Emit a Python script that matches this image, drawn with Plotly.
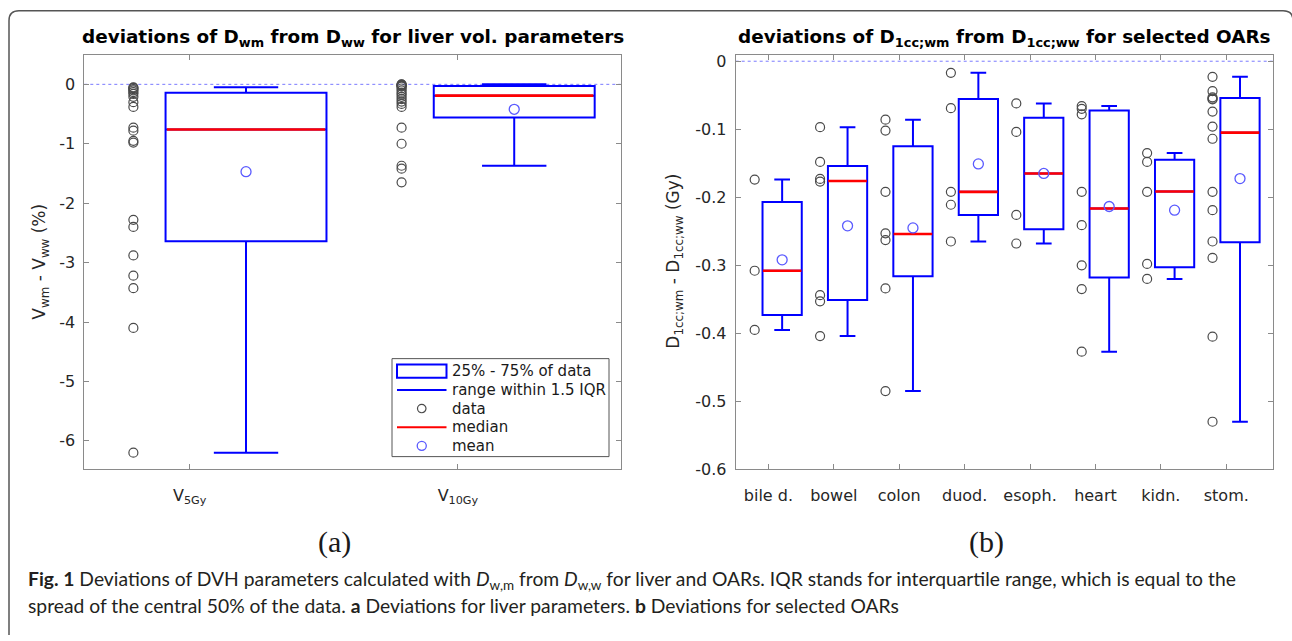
import plotly.graph_objects as go

# ---------------- data: panel (a) ----------------
liver_params = ["V<sub>5Gy</sub>", "V<sub>10Gy</sub>"]
liver_data_v5 = [-0.05, -0.06, -0.08, -0.10, -0.13, -0.16, -0.21, -0.30, -0.38,
                 -0.73, -0.78, -0.95, -0.98, -2.28, -2.40, -2.88, -3.22, -3.43, -4.10, -6.20]
liver_data_v10 = [0.0, -0.005, -0.01, -0.02, -0.025, -0.04, -0.07, -0.10, -0.14, -0.17,
                  -0.21, -0.25, -0.29, -0.33, -0.38, -0.73, -1.00, -1.37, -1.42, -1.65]
liver_q1 = [-2.64, -0.56]
liver_median = [-0.76, -0.19]
liver_q3 = [-0.14, -0.03]
liver_lower = [-6.20, -1.37]
liver_upper = [-0.05, 0.0]
liver_mean = [-1.47, -0.42]
liver_yticks = [0, -1, -2, -3, -4, -5, -6]
liver_yticklabels = ["0", "-1", "-2", "-3", "-4", "-5", "-6"]

# ---------------- data: panel (b) ----------------
oar_names = ["bile d.", "bowel", "colon", "duod.", "esoph.", "heart", "kidn.", "stom."]
oar_bile = [-0.174, -0.308, -0.395]
oar_bowel = [-0.097, -0.148, -0.173, -0.177, -0.344, -0.353, -0.404]
oar_colon = [-0.086, -0.102, -0.192, -0.253, -0.263, -0.334, -0.485]
oar_duod = [-0.017, -0.069, -0.192, -0.211, -0.265]
oar_esoph = [-0.062, -0.104, -0.226, -0.268]
oar_heart = [-0.066, -0.070, -0.078, -0.192, -0.241, -0.300, -0.335, -0.427]
oar_kidn = [-0.135, -0.148, -0.192, -0.298, -0.320]
oar_stom = [-0.023, -0.044, -0.053, -0.055, -0.056, -0.074, -0.096, -0.114,
            -0.192, -0.219, -0.265, -0.289, -0.405, -0.530]
oar_q1 = [-0.373, -0.351, -0.316, -0.226, -0.247, -0.318, -0.303, -0.266]
oar_median = [-0.308, -0.176, -0.254, -0.192, -0.165, -0.2165, -0.1915, -0.105]
oar_q3 = [-0.207, -0.154, -0.125, -0.0557, -0.083, -0.0725, -0.145, -0.054]
oar_lower = [-0.395, -0.404, -0.485, -0.265, -0.268, -0.427, -0.320, -0.530]
oar_upper = [-0.174, -0.097, -0.086, -0.017, -0.062, -0.066, -0.135, -0.023]
oar_mean = [-0.292, -0.242, -0.245, -0.151, -0.165, -0.2136, -0.219, -0.1725]
oar_yticks = [0, -0.1, -0.2, -0.3, -0.4, -0.5, -0.6]
oar_yticklabels = ["0", "-0.1", "-0.2", "-0.3", "-0.4", "-0.5", "-0.6"]

legend_labels = ["25% - 75% of data", "range within 1.5 IQR", "data", "median", "mean"]

# ---------------- styling ----------------
W, H = 1292, 641
BLUE = "#0000ff"
RED = "#ff0000"
MEANC = "#5a5aff"
DATAC = "#4a4a4a"
AXC = "#8a8a8a"
TICKFONT = dict(family="DejaVu Sans", size=16, color="#262626")
DATA_OFF = -0.21
BOX_OFF = 0.21
BOX_W = 0.6


def px(x):
    return x / W


def py(y):
    return 1 - y / H


fig = go.Figure()


def add_panel(xa, ya, groups, q1, med, q3, lo, up, mean):
    n = len(groups)
    cats = list(range(1, n + 1))
    bpos = [c + BOX_OFF for c in cats]
    fig.add_trace(go.Box(
        x=bpos, q1=q1, median=med, q3=q3, lowerfence=lo, upperfence=up,
        width=BOX_W, whiskerwidth=0.4, boxpoints=False, orientation="v",
        line=dict(color=BLUE, width=2), fillcolor="rgba(0,0,0,0)",
        name=legend_labels[0], showlegend=False, xaxis=xa, yaxis=ya,
        hoverinfo="skip"))
    dx, dy = [], []
    for c, g in zip(cats, groups):
        dx += [c + DATA_OFF] * len(g)
        dy += g
    fig.add_trace(go.Scatter(
        x=dx, y=dy, mode="markers", name=legend_labels[2], showlegend=False,
        marker=dict(symbol="circle-open", size=9, color=DATAC, line=dict(width=1.2)),
        xaxis=xa, yaxis=ya))
    mx, my = [], []
    for p, m in zip(bpos, med):
        mx += [p - BOX_W / 2 + 0.005, p + BOX_W / 2 - 0.005, None]
        my += [m, m, None]
    fig.add_trace(go.Scatter(
        x=mx, y=my, mode="lines", line=dict(color=RED, width=2.6),
        name=legend_labels[3], showlegend=False, xaxis=xa, yaxis=ya))
    fig.add_trace(go.Scatter(
        x=bpos, y=mean, mode="markers", name=legend_labels[4], showlegend=False,
        marker=dict(symbol="circle-open", size=10, color=MEANC, line=dict(width=1.3)),
        xaxis=xa, yaxis=ya))


add_panel("x", "y", [liver_data_v5, liver_data_v10], liver_q1, liver_median,
          liver_q3, liver_lower, liver_upper, liver_mean)
add_panel("x2", "y2", [oar_bile, oar_bowel, oar_colon, oar_duod, oar_esoph,
                       oar_heart, oar_kidn, oar_stom],
          oar_q1, oar_median, oar_q3, oar_lower, oar_upper, oar_mean)

axcommon = dict(showline=True, linecolor=AXC, linewidth=1, mirror="ticks",
                ticks="inside", ticklen=5, tickcolor=AXC, showgrid=False,
                zeroline=False, tickfont=TICKFONT)

fig.update_layout(
    width=W, height=H, margin=dict(l=0, r=0, t=0, b=0),
    paper_bgcolor="white", plot_bgcolor="white", showlegend=False,
    xaxis=dict(domain=[px(84.3), px(620.7)], range=[0.607, 2.607], anchor="y",
               tickvals=[1, 2], ticktext=liver_params, ticklabelstandoff=11, **axcommon),
    yaxis=dict(domain=[py(476), py(52.7)], range=[-6.48, 0.5], anchor="x",
               tickvals=liver_yticks, ticktext=liver_yticklabels,
               ticklabelstandoff=5, **axcommon),
    xaxis2=dict(domain=[px(735.7), px(1272.7)], range=[0.5, 8.71], anchor="y2",
                tickvals=list(range(1, len(oar_names) + 1)), ticktext=oar_names,
                ticklabelstandoff=11, **axcommon),
    yaxis2=dict(domain=[py(476), py(52.7)], range=[-0.6, 0.0097], anchor="x2",
                tickvals=oar_yticks, ticktext=oar_yticklabels,
                ticklabelstandoff=5, **axcommon),
)

# zero reference lines
for xr, yr in [("x domain", "y"), ("x2 domain", "y2")]:
    fig.add_shape(type="line", xref=xr, yref=yr, x0=0, x1=1, y0=0, y1=0,
                  line=dict(color="#7a7aff", width=1, dash="3px,3px"), layer="below")

# ---------------- legend of panel (a) ----------------
LEGFONT = dict(family="DejaVu Sans", size=15, color="#1a1a1a")
fig.add_shape(type="rect", xref="paper", yref="paper",
              x0=px(392), x1=px(609), y0=py(463), y1=py(363),
              line=dict(color="#555555", width=1), fillcolor="white", layer="above")
leg_y = [375.7, 395.0, 414.0, 433.0, 452.0]
for lab, yy in zip(legend_labels, leg_y):
    fig.add_annotation(text=lab, x=px(450), y=py(yy), xref="paper", yref="paper",
                       showarrow=False, xanchor="left", yanchor="middle", font=LEGFONT)
fig.add_shape(type="rect", xref="paper", yref="paper",
              x0=px(397), x1=px(446.5), y0=py(382.5), y1=py(369),
              line=dict(color=BLUE, width=2), layer="above")
fig.add_shape(type="line", xref="paper", yref="paper",
              x0=px(397), x1=px(446.5), y0=py(leg_y[1]), y1=py(leg_y[1]),
              line=dict(color=BLUE, width=2), layer="above")
fig.add_shape(type="circle", xref="paper", yref="paper",
              x0=px(417.5), x1=px(426), y0=py(leg_y[2] + 4.25), y1=py(leg_y[2] - 4.25),
              line=dict(color=DATAC, width=1.2), layer="above")
fig.add_shape(type="line", xref="paper", yref="paper",
              x0=px(397), x1=px(446.5), y0=py(leg_y[3]), y1=py(leg_y[3]),
              line=dict(color=RED, width=2), layer="above")
fig.add_shape(type="circle", xref="paper", yref="paper",
              x0=px(417.2), x1=px(426.3), y0=py(leg_y[4] + 4.6), y1=py(leg_y[4] - 4.6),
              line=dict(color=MEANC, width=1.3), layer="above")

# ---------------- titles and labels ----------------
TITLEFONT = dict(family="DejaVu Sans", size=18.4, color="black")
fig.add_annotation(text="<b>deviations of D<sub>wm</sub> from D<sub>ww</sub> for liver vol. parameters</b>",
                   x=px(352.5), y=py(36), xref="paper", yref="paper", showarrow=False,
                   xanchor="center", yanchor="middle", font=TITLEFONT)
fig.add_annotation(text="<b>deviations of D<sub>1cc;wm</sub> from D<sub>1cc;ww</sub> for selected OARs</b>",
                   x=px(1004), y=py(36), xref="paper", yref="paper", showarrow=False,
                   xanchor="center", yanchor="middle", font=TITLEFONT)

LABFONT = dict(family="DejaVu Sans", size=17, color="#262626")
fig.add_annotation(text="V<sub>wm</sub> - V<sub>ww</sub> (%)", textangle=-90,
                   x=px(41), y=py(264), xref="paper", yref="paper", showarrow=False,
                   xanchor="center", yanchor="middle", font=LABFONT)
fig.add_annotation(text="D<sub>1cc;wm</sub> - D<sub>1cc;ww</sub> (Gy)", textangle=-90,
                   x=px(675), y=py(264), xref="paper", yref="paper", showarrow=False,
                   xanchor="center", yanchor="middle", font=LABFONT)

SERIF = dict(family="Liberation Serif", size=30, color="#1a1a1a")
fig.add_annotation(text="(a)", x=px(334), y=py(550), xref="paper", yref="paper",
                   showarrow=False, xanchor="center", yanchor="middle", font=SERIF)
fig.add_annotation(text="(b)", x=px(986), y=py(550), xref="paper", yref="paper",
                   showarrow=False, xanchor="center", yanchor="middle", font=SERIF)

CAPFONT = dict(family="Lato", size=19.3, color="#231f20")
fig.add_annotation(
    text="<b>Fig. 1</b> Deviations of DVH parameters calculated with <i>D</i><sub>w,m</sub> from "
         "<i>D</i><sub>w,w</sub> for liver and OARs. IQR stands for interquartile range, which is equal to the",
    x=px(26), y=py(589), xref="paper", yref="paper", showarrow=False,
    xanchor="left", yanchor="middle", font=CAPFONT)
fig.add_annotation(
    text="spread of the central 50% of the data. <b>a</b> Deviations for liver parameters. "
         "<b>b</b> Deviations for selected OARs",
    x=px(26), y=py(614.5), xref="paper", yref="paper", showarrow=False,
    xanchor="left", yanchor="middle", font=CAPFONT)

# rounded frame around the figure (right side runs just past the canvas edge)
fig.add_shape(type="path", xref="paper", yref="paper",
              path=f"M {px(9)},{py(645)} L {px(9)},{py(18)} Q {px(9)},{py(8)} {px(19)},{py(8)} "
                   f"L {px(1283)},{py(8)} Q {px(1293)},{py(8)} {px(1293)},{py(18)} L {px(1293)},{py(645)}",
              line=dict(color="#555555", width=1.5))

fig.write_html("out.html", config={"displayModeBar": False},
               post_script="document.body.style.margin='0';document.body.style.overflow='hidden';")
